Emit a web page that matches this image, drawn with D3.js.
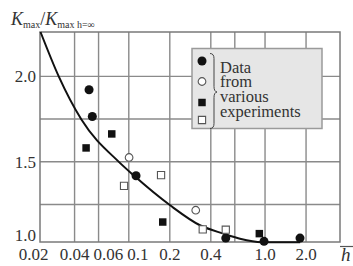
<!DOCTYPE html>
<html>
<head>
<meta charset="utf-8">
<script src="https://cdn.jsdelivr.net/npm/d3@7"></script>
<style>
  body { margin: 0; background: #fff; }
  text { font-family: 'Liberation Serif', 'Times New Roman', 'DejaVu Serif', serif; }
</style>
</head>
<body>
<div id="chart"></div>
<script>
// axis ticks and grid
var hTicks = [0.02, 0.04, 0.06, 0.1, 0.2, 0.4, 1, 2];
var hTickLabels = ["0.02", "0.04", "0.06", "0.1", "0.2", "0.4", "1.0", "2.0"];
var hGrid = [0.04, 0.06, 0.1, 0.2, 0.4, 0.6, 1, 2];
var kTicks = [1.0, 1.5, 2.0];
var kTickLabels = ["1.0", "1.5", "2.0"];
var kGrid = [1.25, 1.5, 1.75, 2.0];

// fitted curve
var curveH = [0.0225, 0.0306, 0.0449, 0.0849, 0.108, 0.201, 0.333, 0.494, 0.655, 0.945, 1.81];
var curveK = [2.26, 2.0, 1.747, 1.498, 1.422, 1.245, 1.128, 1.079, 1.049, 1.029, 1.029];

// experiments (4 sources)
var filledCircleH = [0.0511, 0.054, 0.113, 0.515, 0.983, 1.806];
var filledCircleK = [1.922, 1.765, 1.418, 1.053, 1.034, 1.053];
var openCircleH = [0.1005, 0.31];
var openCircleK = [1.525, 1.216];
var filledSquareH = [0.0486, 0.075, 0.1775, 0.908];
var filledSquareK = [1.581, 1.663, 1.147, 1.079];
var openSquareH = [0.0923, 0.1725, 0.349, 0.515];
var openSquareK = [1.359, 1.422, 1.104, 1.102];

var legendLines = ["Data", "from", "various", "experiments"];

var serif = "'Liberation Serif', 'Times New Roman', 'DejaVu Serif', serif";

var width = 353, height = 266;
var svg = d3.select("#chart").append("svg")
  .attr("width", width)
  .attr("height", height)
  .style("display", "block");

var x = d3.scaleLog().domain([0.0223, 3.55]).range([40, 340]);
var y = d3.scaleLinear().domain([1.03, 2.26]).range([242, 32]);

var gridColor = "#8a8a8a";
var textColor = "#333";

// grid
svg.append("g").selectAll("line")
  .data(hGrid).enter().append("line")
  .attr("x1", function (d) { return x(d); })
  .attr("x2", function (d) { return x(d); })
  .attr("y1", y.range()[1])
  .attr("y2", y.range()[0])
  .attr("stroke", gridColor)
  .attr("stroke-width", 1.4);

svg.append("g").selectAll("line")
  .data(kGrid).enter().append("line")
  .attr("x1", x.range()[0])
  .attr("x2", x.range()[1])
  .attr("y1", function (d) { return y(d); })
  .attr("y2", function (d) { return y(d); })
  .attr("stroke", gridColor)
  .attr("stroke-width", 1.4);

// frame
svg.append("rect")
  .attr("x", x.range()[0])
  .attr("y", y.range()[1])
  .attr("width", x.range()[1] - x.range()[0])
  .attr("height", y.range()[0] - y.range()[1])
  .attr("fill", "none")
  .attr("stroke", "#7a7a7a")
  .attr("stroke-width", 1.5);

// x tick labels, nudged right where they would collide
var xLabels = svg.append("g").selectAll("text")
  .data(hTicks).enter().append("text")
  .attr("x", function (d) { return x(d); })
  .attr("y", 260)
  .attr("text-anchor", "middle")
  .attr("font-family", serif)
  .attr("font-size", 17)
  .attr("fill", textColor)
  .text(function (d, i) { return hTickLabels[i]; });

var lastRight = -Infinity;
xLabels.each(function (d) {
  var w = this.getComputedTextLength();
  var cx = x(d);
  if (cx - w / 2 < lastRight + 4) cx = lastRight + 4 + w / 2;
  d3.select(this).attr("x", cx);
  lastRight = cx + w / 2;
});

// y tick labels
svg.append("g").selectAll("text")
  .data(kTicks).enter().append("text")
  .attr("x", 36)
  .attr("y", function (d) { return Math.min(y(d), y.range()[0] - 7); })
  .attr("dy", "0.34em")
  .attr("text-anchor", "end")
  .attr("font-family", serif)
  .attr("font-size", 17)
  .attr("fill", textColor)
  .text(function (d, i) { return kTickLabels[i]; });

// y axis title  K_max / K_max h=inf
var yTitle = svg.append("text")
  .attr("x", 11)
  .attr("y", 25)
  .attr("fill", textColor)
  .attr("font-family", serif)
  .attr("font-size", 18);
yTitle.append("tspan").attr("font-style", "italic").text("K");
yTitle.append("tspan").attr("font-size", 10).attr("dy", 3).text("max");
yTitle.append("tspan").attr("dy", -3).text("/");
yTitle.append("tspan").attr("font-style", "italic").text("K");
yTitle.append("tspan").attr("font-size", 10).attr("dy", 3).text("max h=\u221e");

// x axis title  h with bar
svg.append("text")
  .attr("x", 341)
  .attr("y", 261)
  .attr("font-family", serif)
  .attr("font-size", 19)
  .attr("font-style", "italic")
  .attr("fill", textColor)
  .text("h");
svg.append("line")
  .attr("x1", 340).attr("x2", 353)
  .attr("y1", 246.5).attr("y2", 246.5)
  .attr("stroke", "#555")
  .attr("stroke-width", 1.2);

// curve
var line = d3.line()
  .x(function (d) { return x(d[0]); })
  .y(function (d) { return y(d[1]); })
  .curve(d3.curveMonotoneX);

svg.append("path")
  .datum(d3.zip(curveH, curveK))
  .attr("d", line)
  .attr("fill", "none")
  .attr("stroke", "#111")
  .attr("stroke-width", 2);

// marker styles
var markerTypes = [
  { shape: d3.symbolCircle, size: 64, fill: "#111", stroke: "none" },
  { shape: d3.symbolCircle, size: 46, fill: "#fff", stroke: "#555" },
  { shape: d3.symbolSquare, size: 56, fill: "#111", stroke: "none" },
  { shape: d3.symbolSquare, size: 52, fill: "#fff", stroke: "#555" }
];
var seriesH = [filledCircleH, openCircleH, filledSquareH, openSquareH];
var seriesK = [filledCircleK, openCircleK, filledSquareK, openSquareK];

seriesH.forEach(function (hs, s) {
  var m = markerTypes[s];
  svg.append("g").selectAll("path")
    .data(d3.zip(hs, seriesK[s])).enter().append("path")
    .attr("transform", function (d) { return "translate(" + x(d[0]) + "," + y(d[1]) + ")"; })
    .attr("d", d3.symbol().type(m.shape).size(m.size))
    .attr("fill", m.fill)
    .attr("stroke", m.stroke)
    .attr("stroke-width", 1.1);
});

// legend
var lg = svg.append("g").attr("transform", "translate(192,48.5)");
lg.append("rect")
  .attr("width", 130)
  .attr("height", 80)
  .attr("fill", "#e6e6e6")
  .attr("stroke", "#9a9a9a")
  .attr("stroke-width", 1.5);

var legendMarkY = [12.5, 33, 54, 71.5];
markerTypes.forEach(function (m, i) {
  lg.append("path")
    .attr("transform", "translate(10," + legendMarkY[i] + ")")
    .attr("d", d3.symbol().type(m.shape).size(m.size))
    .attr("fill", m.fill)
    .attr("stroke", m.stroke)
    .attr("stroke-width", 1.1);
});

// curly brace
lg.append("path")
  .attr("d", "M18,5 Q22,5 22,10 L22,38 Q22,43 25,43.5 Q22,44 22,49 L22,75 Q22,80 18,80")
  .attr("fill", "none")
  .attr("stroke", "#444")
  .attr("stroke-width", 1);

lg.selectAll("text.item")
  .data(legendLines).enter().append("text")
  .attr("class", "item")
  .attr("x", 28)
  .attr("y", function (d, i) { return 24 + i * 14.7; })
  .attr("font-family", serif)
  .attr("font-size", 16.5)
  .attr("fill", textColor)
  .text(function (d) { return d; });
</script>
</body>
</html>
